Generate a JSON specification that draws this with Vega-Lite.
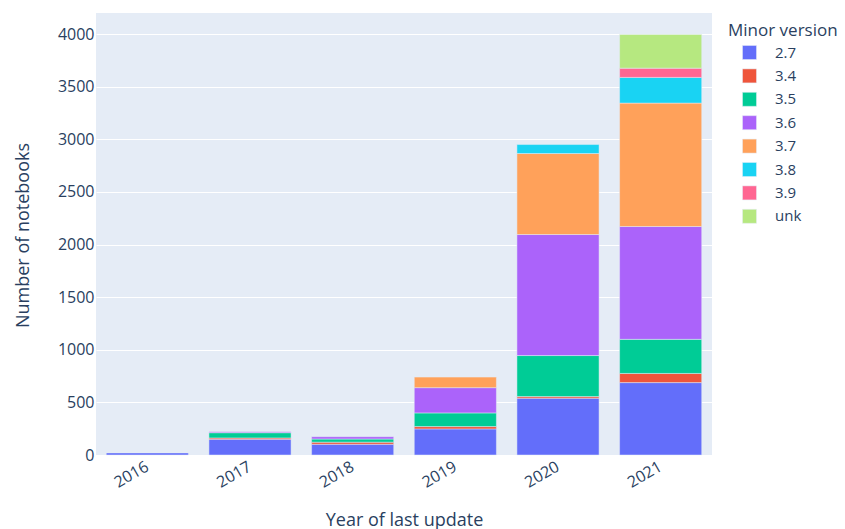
{
  "$schema": "https://vega.github.io/schema/vega-lite/v6.json",
  "autosize": {"type": "none"},
  "width": 616,
  "height": 442,
  "padding": {"left": 96, "top": 13, "right": 133, "bottom": 74},
  "background": "white",
  "config": {
    "view": {"fill": "#E5ECF6", "stroke": null},
    "font": "Open Sans",
    "axis": {
      "labelFont": "Open Sans",
      "titleFont": "Open Sans",
      "labelColor": "#2a3f5f",
      "titleColor": "#2a3f5f",
      "labelFontSize": 16,
      "titleFontSize": 18,
      "titleFontWeight": "normal",
      "gridColor": "white",
      "gridWidth": 1,
      "gridOpacity": 1,
      "domain": false,
      "ticks": false,
      "tickSize": 0
    },
    "legend": {
      "labelFont": "Open Sans",
      "titleFont": "Open Sans",
      "labelColor": "#2a3f5f",
      "titleColor": "#2a3f5f"
    }
  },
  "data": {
    "values": [
      {"year": "2016", "version": "2.7", "count": 20},
      {"year": "2017", "version": "2.7", "count": 150},
      {"year": "2017", "version": "3.4", "count": 12},
      {"year": "2017", "version": "3.5", "count": 50},
      {"year": "2017", "version": "3.6", "count": 8},
      {"year": "2018", "version": "2.7", "count": 102},
      {"year": "2018", "version": "3.4", "count": 20},
      {"year": "2018", "version": "3.5", "count": 30},
      {"year": "2018", "version": "3.6", "count": 22},
      {"year": "2019", "version": "2.7", "count": 248},
      {"year": "2019", "version": "3.4", "count": 22},
      {"year": "2019", "version": "3.5", "count": 130},
      {"year": "2019", "version": "3.6", "count": 240},
      {"year": "2019", "version": "3.7", "count": 100},
      {"year": "2020", "version": "2.7", "count": 540},
      {"year": "2020", "version": "3.4", "count": 15},
      {"year": "2020", "version": "3.5", "count": 390},
      {"year": "2020", "version": "3.6", "count": 1150},
      {"year": "2020", "version": "3.7", "count": 770},
      {"year": "2020", "version": "3.8", "count": 85},
      {"year": "2021", "version": "2.7", "count": 688},
      {"year": "2021", "version": "3.4", "count": 87},
      {"year": "2021", "version": "3.5", "count": 324},
      {"year": "2021", "version": "3.6", "count": 1072},
      {"year": "2021", "version": "3.7", "count": 1173},
      {"year": "2021", "version": "3.8", "count": 244},
      {"year": "2021", "version": "3.9", "count": 88},
      {"year": "2021", "version": "unk", "count": 320}
    ]
  },
  "mark": {"type": "bar", "stroke": "#E5ECF6", "strokeWidth": 0.5},
  "encoding": {
    "x": {
      "field": "year",
      "type": "nominal",
      "scale": {"paddingInner": 0.2, "paddingOuter": 0.1},
      "axis": {
        "title": "Year of last update",
        "labelAngle": -30,
        "labelAlign": "right",
        "labelBaseline": "middle",
        "labelPadding": 10,
        "labelDx": 6,
        "titleY": 70,
        "titleBaseline": "alphabetic",
        "grid": false
      }
    },
    "y": {
      "field": "count",
      "type": "quantitative",
      "stack": "zero",
      "scale": {"domain": [0, 4200], "nice": false},
      "axis": {
        "title": "Number of notebooks",
        "format": "d",
        "values": [0, 500, 1000, 1500, 2000, 2500, 3000, 3500, 4000],
        "labelPadding": 2,
        "titleX": -68,
        "titleY": 222,
        "titleAngle": -90,
        "titleAlign": "center",
        "titleBaseline": "alphabetic"
      }
    },
    "color": {
      "field": "version",
      "type": "nominal",
      "scale": {
        "domain": ["2.7", "3.4", "3.5", "3.6", "3.7", "3.8", "3.9", "unk"],
        "range": ["#636EFA", "#EF553B", "#00CC96", "#AB63FA", "#FFA15A", "#19D3F3", "#FF6692", "#B6E880"]
      },
      "legend": {
        "title": "Minor version",
        "orient": "none",
        "legendX": 632,
        "legendY": 10,
        "padding": 0,
        "titleFontSize": 17,
        "titleFontWeight": "normal",
        "titlePadding": 5,
        "labelFontSize": 15,
        "symbolType": "square",
        "symbolSize": 196,
        "symbolStrokeColor": "#E5ECF6",
        "symbolStrokeWidth": 0.5,
        "symbolOpacity": 1,
        "symbolOffset": 14,
        "labelOffset": 18,
        "rowPadding": 6.4
      }
    },
    "order": {"field": "version", "sort": "ascending"}
  }
}
